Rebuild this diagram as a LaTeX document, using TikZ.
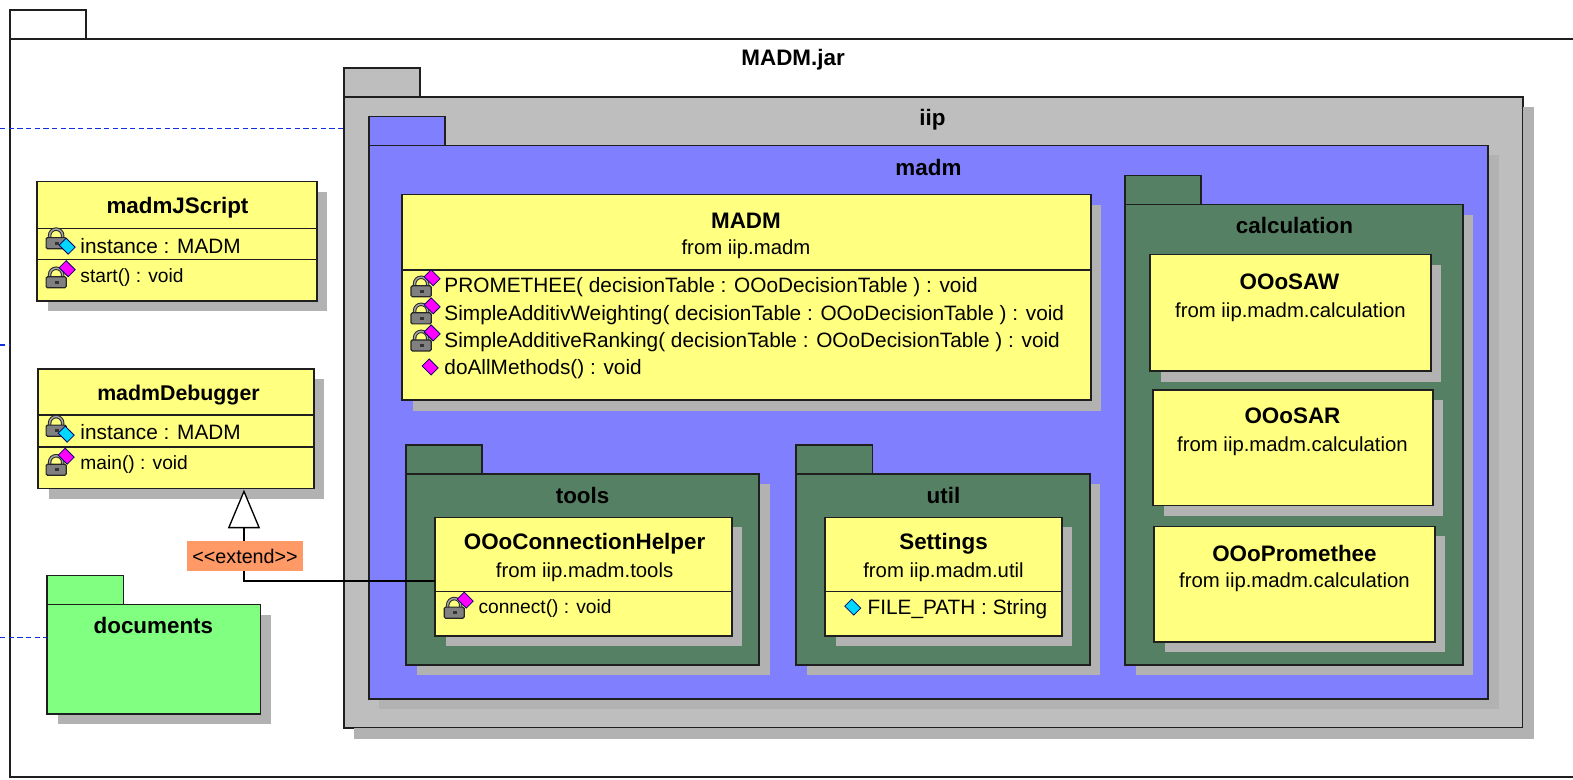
\documentclass[tikz,border=0pt]{standalone}
\usepackage{fontspec}
\setmainfont{Liberation Sans}
\usetikzlibrary{fit,arrows.meta}
\definecolor{pkgwhite}{HTML}{FFFFFF}
\definecolor{pkggray}{HTML}{BEBEBE}
\definecolor{pkgblue}{HTML}{8080FF}
\definecolor{pkgdark}{HTML}{568063}
\definecolor{pkggreen}{HTML}{80FF80}
\definecolor{clsyellow}{HTML}{FFFF80}
\definecolor{shadowgray}{HTML}{B2B2B2}
\definecolor{extorange}{HTML}{FF9966}
\definecolor{dashblue}{HTML}{1030E0}
\definecolor{attrcyan}{HTML}{00D8FF}
\definecolor{opmagenta}{HTML}{FF00FF}
\tikzset{
  x=0.752pt,y=-0.752pt,
  boxline/.style={draw=black!88,line width=1.2pt},
  boxnode/.style={boxline,inner sep=0pt,outer sep=0pt},
  shadowfill/.style={fill=shadowgray,draw=none},
  title/.style={font=\fontsize{16.8}{19}\selectfont\bfseries,inner sep=0pt},
  narrowtitle/.style={font=\fontsize{16}{19}\selectfont\bfseries,inner sep=0pt},
  small/.style={font=\fontsize{15.25}{18}\selectfont,inner sep=0pt,yshift=-1.5pt},
  member/.style={font=\fontsize{15.6}{18}\selectfont,inner sep=0pt,anchor=west,yshift=-1pt},
  shortmember/.style={font=\fontsize{14.4}{18}\selectfont,inner sep=0pt,anchor=west,yshift=-1pt},
  extendline/.style={draw=black,line width=1pt},
  boundary/.style={draw=dashblue,dashed,line width=0.9pt,dash pattern=on 4pt off 2.5pt},
  pics/lockicon/.style={code={
    \draw[draw=black!85,line width=2.6pt] (-6.5,0) -- (-6.5,-3) arc[start angle=180,end angle=360,radius=6.5] -- (6.5,0);
    \draw[draw=black!35,line width=1.1pt] (-6.5,0) -- (-6.5,-3) arc[start angle=180,end angle=360,radius=6.5] -- (6.5,0);
    \draw[draw=black!85,fill=black!50,line width=0.9pt,rounded corners=1pt] (-10,-1) rectangle (10,10);
    \fill[black!80] (-1,3) rectangle (3,6);
  }},
  pics/diaicon/.style={code={
    \draw[draw=black!60!blue,fill=#1,line width=0.6pt] (-8,-1) -- (-1,-8) -- (8,1) -- (1,8) -- cycle;
  }},
}
\newcommand{\pkgbox}[7]{% name tabx1 taby1 x1 x2 y2 color ; body top = taby1+29
  \pgfmathsetmacro{\bodytop}{#3+29}
  \fill[shadowfill] (#2+10.5,\bodytop+10) rectangle (#5+10.5,#6+10.5);
  \node[boxnode,fill=#7,fit={(#2,#3)(#2+76,\bodytop)}] (#1tab) {};
  \node[boxnode,fill=#7,fit={(#2,\bodytop)(#5,#6)}] (#1) {};
}
\newcommand{\clsbox}[5]{% name x1 y1 x2 y2
  \fill[shadowfill] (#2+10.5,#3+10) rectangle (#4+10.5,#5+10.5);
  \node[boxnode,fill=clsyellow,fit={(#2,#3)(#4,#5)}] (#1) {};
}
\begin{document}
\begin{tikzpicture}
\useasboundingbox (0,0) rectangle (1568.82,776.93);
\fill[white] (0,0) rectangle (1570,778);
\begin{scope}
\clip (0,0) rectangle (1568.82,776.93);
% outer package
\node[boxnode,fill=white,fit={(10,10)(86,39)}] (jartab) {};
\node[boxnode,fill=white,fit={(10,39)(1590,775)}] (jar) {};
\node[title] (jartitle) at (791,60) {MADM.jar};
% boundary stubs
\coordinate (b1) at (0,128);
\coordinate (b2) at (0,344);
\coordinate (b3) at (0,636);
% iip
\pkgbox{iip}{343}{68}{343}{1519}{726}{pkggray}
\fill[shadowfill] (1519,107) rectangle (1530,737);
\fill[shadowfill] (353,726) rectangle (1530,737);
\node[title] (iiptitle) at (930,119) {iip};
\draw[boundary] (b1) -- (iip.west |- b1);
\draw[boundary] (b2) -- (jar.west |- b2);
% madm
\fill[shadowfill] (1484,155) rectangle (1495,707);
\fill[shadowfill] (378,697) rectangle (1495,707);
\node[boxnode,fill=pkgblue,fit={(368,116)(444,145)}] (madmtab) {};
\node[boxnode,fill=pkgblue,fit={(368,145)(1484,697)}] (madm) {};
\node[title] (madmtitle) at (926,167) {madm};
% MADM class
\clsbox{madmcls}{401}{194}{1088}{399}
\coordinate (m1) at (401,269);
\coordinate (m2) at (1088,269);
\draw[boxline] (m1) -- (m2);
\node[title] (madmname) at (744,220) {MADM};
\node[small] (madmfrom) at (744,247) {from iip.madm};
\pic at (420,286) {lockicon};
\pic at (431,277) {diaicon=opmagenta};
\node[member] (op1) at (443,285) {PROMETHEE( decisionTable : OOoDecisionTable ) : void};
\pic at (420,313) {lockicon};
\pic at (431,305) {diaicon=opmagenta};
\node[member] (op2) at (443,313) {SimpleAdditivWeighting( decisionTable : OOoDecisionTable ) : void};
\pic at (420,340) {lockicon};
\pic at (431,332) {diaicon=opmagenta};
\node[member] (op3) at (443,340) {SimpleAdditiveRanking( decisionTable : OOoDecisionTable ) : void};
\pic at (429,366) {diaicon=opmagenta};
\node[member] (op4) at (443,367) {doAllMethods() : void};
% calculation
\pkgbox{calc}{1122}{175}{1122}{1459}{663}{pkgdark}
\node[title] (calctitle) at (1291,225) {calculation};
\clsbox{saw}{1147}{254}{1427}{370}
\node[title] (sawname) at (1286,281) {OOoSAW};
\node[small] (sawfrom) at (1287,309) {from iip.madm.calculation};
\clsbox{sar}{1150}{389}{1429}{504}
\node[title] (sarname) at (1289,415) {OOoSAR};
\node[small] (sarfrom) at (1289,443) {from iip.madm.calculation};
\clsbox{prom}{1151}{525}{1431}{640}
\node[title] (promname) at (1291,552) {OOoPromethee};
\node[small] (promfrom) at (1291,579) {from iip.madm.calculation};
% tools
\pkgbox{tools}{405}{444}{405}{757}{663}{pkgdark}
\node[title] (toolstitle) at (581,494) {tools};
\clsbox{helper}{434}{516}{730}{634}
\coordinate (h1) at (434,590);
\coordinate (h2) at (730,590);
\draw[boxline] (h1) -- (h2);
\node[title] (helpername) at (583,542) {OOoConnectionHelper};
\node[small] (helperfrom) at (583,569) {from iip.madm.tools};
\pic at (453,606.5) {lockicon};
\pic at (464,598.5) {diaicon=opmagenta};
\node[shortmember] (connect) at (477,606) {connect() : void};
% util
\pkgbox{util}{794}{444}{794}{1087}{663}{pkgdark}
\node[title] (utiltitle) at (941,494) {util};
\clsbox{settings}{823}{516}{1059}{634}
\coordinate (s1) at (823,590);
\coordinate (s2) at (1059,590);
\draw[boxline] (s1) -- (s2);
\node[title] (settingsname) at (941,542) {Settings};
\node[small] (settingsfrom) at (941,569) {from iip.madm.util};
\pic at (850.5,605.5) {diaicon=attrcyan};
\node[member] (filepath) at (865,606) {FILE\_PATH : String};
% madmJScript
\clsbox{jscript}{37}{181}{316}{300}
\coordinate (j1) at (37,228);
\coordinate (j2) at (316,228);
\coordinate (j3) at (37,259);
\coordinate (j4) at (316,259);
\draw[boxline] (j1) -- (j2);
\draw[boxline] (j3) -- (j4);
\node[title] (jsname) at (177,207) {madmJScript};
\pic at (56,238) {lockicon};
\pic at (67,245.5) {diaicon=attrcyan};
\node[member] (jsattr) at (80,244) {instance : MADM};
\pic at (56,277) {lockicon};
\pic at (67,268) {diaicon=opmagenta};
\node[shortmember] (jsop) at (80,275) {start() : void};
% madmDebugger
\clsbox{debugger}{38}{368}{313}{487}
\coordinate (d1) at (38,414);
\coordinate (d2) at (313,414);
\coordinate (d3) at (38,446);
\coordinate (d4) at (313,446);
\draw[boxline] (d1) -- (d2);
\draw[boxline] (d3) -- (d4);
\node[narrowtitle] (dbname) at (178,394) {madmDebugger};
\pic at (56,425) {lockicon};
\pic at (66,433) {diaicon=attrcyan};
\node[member] (dbattr) at (80,430) {instance : MADM};
\pic at (56,464) {lockicon};
\pic at (66,455) {diaicon=opmagenta};
\node[shortmember] (dbop) at (80,462) {main() : void};
% documents
\pkgbox{docs}{47}{574}{47}{260}{712}{pkggreen}
\node[title] (docstitle) at (153,624) {documents};
\draw[boundary] (b3) -- (docs.west |- b3);
% extend
\draw[extendline,-{Triangle[open,length=29pt,width=24pt,fill=white]}]
  ([yshift=-3.4pt]helper.west) -| ([xshift=51pt,yshift=-1pt]debugger.south);
\node[fill=extorange,font=\fontsize{14.8}{17}\selectfont,inner sep=0pt,minimum width=87pt,minimum height=22pt] (ext) at (244.4,554.6) {<{}<extend>{}>};
\end{scope}
\end{tikzpicture}
\end{document}
